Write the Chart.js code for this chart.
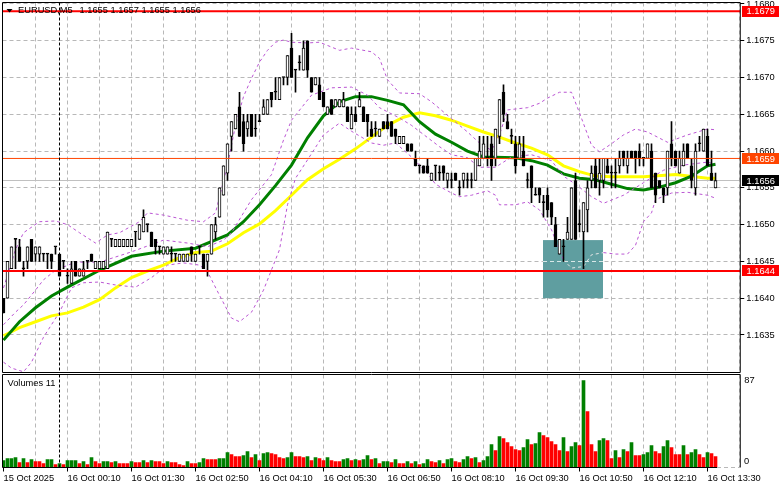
<!DOCTYPE html>
<html>
<head>
<meta charset="utf-8">
<title>EURUSD,M5</title>
<script src="https://cdn.jsdelivr.net/npm/chart.js@4/dist/chart.umd.js"></script>
<style>
body { margin: 0; background: #fff; }
canvas { position: absolute; left: 0; }
#priceChart { top: 0; }
#volumeChart { top: 374px; }
</style>
</head>
<body>
<canvas id="priceChart" width="781" height="374"></canvas>
<canvas id="volumeChart" width="781" height="115"></canvas>
<script>
var opens = [
1.1640,1.1640,1.1644,1.1648,1.1647,1.1644,1.1645,1.1648,1.1646,1.1646,
1.1646,1.1646,1.1646,1.1647,1.1646,1.1645,1.1643,1.1642,1.1645,1.1643,
1.1643,1.1645,1.1646,1.1644,1.1644,1.1644,1.1644,1.1648,1.1647,1.1647,
1.1647,1.1647,1.1647,1.1649,1.1648,1.1649,1.1650,1.1649,1.1648,1.1647,
1.1646,1.1646,1.1646,1.1646,1.1645,1.1645,1.1645,1.1647,1.1645,1.1647,
1.1646,1.1645,1.1646,1.1649,1.1651,1.1654,1.1657,1.1662,1.1663,1.1666,
1.1664,1.1663,1.1665,1.1663,1.1664,1.1665,1.1665,1.1668,1.1668,1.1667,
1.1670,1.1670,1.1674,1.1671,1.1672,1.1671,1.1675,1.1670,1.1669,1.1669,
1.1668,1.1665,1.1667,1.1666,1.1666,1.1666,1.1666,1.1663,1.1665,1.1666,
1.1666,1.1665,1.1663,1.1663,1.1662,1.1664,1.1664,1.1664,1.1663,1.1661,
1.1661,1.1661,1.1661,1.1659,1.1658,1.1658,1.1658,1.1656,1.1658,1.1657,
1.1658,1.1656,1.1656,1.1657,1.1655,1.1656,1.1656,1.1656,1.1656,1.1658,
1.1659,1.1659,1.1661,1.1659,1.1662,1.1668,1.1664,1.1662,1.1661,1.1659,
1.1660,1.1656,1.1658,1.1654,1.1655,1.1653,1.1654,1.1653,1.1650,1.1646,
1.1647,1.1648,1.1648,1.1656,1.1650,1.1649,1.1652,1.1656,1.1658,1.1656,
1.1656,1.1658,1.1657,1.1657,1.1658,1.1660,1.1658,1.1660,1.1660,1.1660,
1.1659,1.1659,1.1660,1.1657,1.1656,1.1655,1.1655,1.1661,1.1660,1.1657,
1.1658,1.1661,1.1658,1.1655,1.1661,1.1660,1.1662,1.1657,1.1655];
var highs = [
1.1640,1.1645,1.1647,1.1648,1.1648,1.1645,1.1647,1.1648,1.1647,1.1647,
1.1646,1.1646,1.1646,1.1647,1.1646,1.1645,1.1644,1.1645,1.1645,1.1644,
1.1645,1.1645,1.1646,1.1645,1.1645,1.1645,1.1649,1.1648,1.1648,1.1648,
1.1648,1.1648,1.1648,1.1649,1.1650,1.1652,1.1650,1.1649,1.1648,1.1647,
1.1647,1.1647,1.1647,1.1646,1.1646,1.1646,1.1646,1.1647,1.1646,1.1647,
1.1646,1.1646,1.1650,1.1651,1.1655,1.1658,1.1661,1.1664,1.1665,1.1668,
1.1665,1.1665,1.1665,1.1665,1.1665,1.1667,1.1667,1.1668,1.1670,1.1670,
1.1670,1.1673,1.1676,1.1671,1.1673,1.1675,1.1675,1.1670,1.1670,1.1670,
1.1668,1.1666,1.1667,1.1667,1.1667,1.1668,1.1666,1.1666,1.1666,1.1668,
1.1666,1.1665,1.1664,1.1664,1.1663,1.1664,1.1665,1.1664,1.1663,1.1662,
1.1662,1.1661,1.1661,1.1660,1.1658,1.1658,1.1659,1.1657,1.1658,1.1658,
1.1658,1.1657,1.1657,1.1657,1.1656,1.1657,1.1657,1.1657,1.1659,1.1662,
1.1662,1.1662,1.1662,1.1663,1.1667,1.1669,1.1665,1.1663,1.1662,1.1662,
1.1662,1.1657,1.1658,1.1655,1.1655,1.1654,1.1655,1.1653,1.1651,1.1648,
1.1648,1.1651,1.1655,1.1657,1.1652,1.1653,1.1656,1.1658,1.1659,1.1659,
1.1659,1.1659,1.1658,1.1659,1.1660,1.1660,1.1660,1.1660,1.1660,1.1661,
1.1659,1.1661,1.1661,1.1657,1.1656,1.1655,1.1660,1.1664,1.1660,1.1660,
1.1661,1.1661,1.1659,1.1661,1.1662,1.1663,1.1663,1.1660,1.1657];
var lows = [
1.1638,1.1640,1.1644,1.1644,1.1645,1.1643,1.1644,1.1645,1.1645,1.1645,
1.1645,1.1644,1.1644,1.1646,1.1643,1.1644,1.1642,1.1642,1.1643,1.1643,
1.1643,1.1644,1.1645,1.1644,1.1644,1.1644,1.1644,1.1647,1.1647,1.1647,
1.1647,1.1647,1.1647,1.1647,1.1648,1.1649,1.1649,1.1647,1.1646,1.1646,
1.1646,1.1646,1.1645,1.1645,1.1645,1.1645,1.1645,1.1645,1.1645,1.1646,
1.1644,1.1643,1.1646,1.1648,1.1651,1.1654,1.1656,1.1660,1.1663,1.1662,
1.1660,1.1662,1.1662,1.1662,1.1664,1.1665,1.1665,1.1666,1.1667,1.1667,
1.1669,1.1669,1.1670,1.1668,1.1671,1.1671,1.1670,1.1668,1.1669,1.1667,
1.1666,1.1665,1.1665,1.1666,1.1666,1.1666,1.1664,1.1663,1.1664,1.1666,
1.1664,1.1662,1.1662,1.1662,1.1662,1.1663,1.1663,1.1662,1.1661,1.1661,
1.1661,1.1660,1.1660,1.1658,1.1657,1.1657,1.1657,1.1656,1.1656,1.1656,
1.1656,1.1655,1.1655,1.1656,1.1654,1.1655,1.1655,1.1655,1.1656,1.1658,
1.1659,1.1658,1.1656,1.1658,1.1661,1.1664,1.1663,1.1661,1.1657,1.1659,
1.1658,1.1655,1.1653,1.1654,1.1653,1.1651,1.1651,1.1650,1.1647,1.1646,
1.1645,1.1648,1.1648,1.1648,1.1649,1.1644,1.1649,1.1655,1.1655,1.1654,
1.1655,1.1657,1.1655,1.1655,1.1657,1.1658,1.1657,1.1659,1.1657,1.1658,
1.1658,1.1659,1.1655,1.1653,1.1655,1.1653,1.1654,1.1658,1.1658,1.1657,
1.1658,1.1659,1.1655,1.1654,1.1660,1.1660,1.1658,1.1656,1.1655];
var closes = [
1.1638,1.1645,1.1647,1.1648,1.1645,1.1644,1.1647,1.1645,1.1647,1.1647,
1.1646,1.1646,1.1645,1.1647,1.1643,1.1645,1.1643,1.1644,1.1643,1.1644,
1.1644,1.1645,1.1645,1.1645,1.1645,1.1645,1.1649,1.1648,1.1648,1.1648,
1.1648,1.1648,1.1648,1.1649,1.1650,1.1651,1.1650,1.1647,1.1647,1.1647,
1.1647,1.1647,1.1646,1.1646,1.1646,1.1646,1.1646,1.1646,1.1646,1.1647,
1.1644,1.1646,1.1650,1.1650,1.1655,1.1658,1.1661,1.1664,1.1665,1.1662,
1.1661,1.1664,1.1662,1.1663,1.1664,1.1666,1.1667,1.1667,1.1668,1.1670,
1.1670,1.1673,1.1670,1.1671,1.1672,1.1674,1.1671,1.1668,1.1670,1.1667,
1.1666,1.1666,1.1665,1.1667,1.1667,1.1667,1.1664,1.1665,1.1664,1.1667,
1.1664,1.1664,1.1662,1.1663,1.1663,1.1663,1.1663,1.1662,1.1662,1.1662,
1.1662,1.1660,1.1660,1.1658,1.1658,1.1657,1.1657,1.1657,1.1658,1.1657,
1.1657,1.1657,1.1656,1.1656,1.1655,1.1657,1.1656,1.1656,1.1659,1.1660,
1.1661,1.1659,1.1658,1.1663,1.1667,1.1665,1.1663,1.1662,1.1658,1.1661,
1.1658,1.1656,1.1655,1.1654,1.1654,1.1653,1.1652,1.1651,1.1647,1.1648,
1.1647,1.1649,1.1655,1.1648,1.1650,1.1653,1.1655,1.1657,1.1655,1.1657,
1.1659,1.1657,1.1657,1.1657,1.1659,1.1659,1.1659,1.1659,1.1659,1.1659,
1.1659,1.1661,1.1655,1.1654,1.1655,1.1654,1.1660,1.1659,1.1658,1.1659,
1.1660,1.1659,1.1656,1.1660,1.1661,1.1663,1.1658,1.1656,1.1656];
var volumes = [
7,9,9,10,5,9,5,8,6,6,4,8,8,3,4,3,7,7,7,4,
6,3,10,6,4,6,6,5,6,4,4,4,6,5,5,7,5,7,6,6,
4,6,5,5,3,2,6,4,4,5,9,8,8,8,9,9,15,13,11,11,
12,16,10,13,7,14,15,14,13,10,9,10,15,11,11,10,11,7,10,9,
7,10,7,6,6,8,9,7,8,7,8,12,8,9,4,6,6,5,8,4,
4,6,4,6,3,4,8,6,5,7,4,8,9,6,5,8,11,9,10,5,
7,11,23,17,31,29,25,21,18,17,20,28,23,24,35,32,30,26,23,17,
30,16,21,25,22,87,56,23,16,27,29,27,9,17,10,18,16,25,12,12,
13,15,22,16,14,21,27,20,13,13,22,13,15,18,13,10,15,14,11];

var fastBars = [0,4,8,12,16,24,32,40,48,56,60,64,68,72,76,80,84,88,92,96,100,104,108,112,116,120,128,132,136,140,144,148,152,156,160,164,168,172,176,178];
var fastMa = [1.16343,1.16368,1.16387,1.16403,1.16415,1.16438,1.16457,1.16464,1.16468,1.16486,1.16504,1.16527,1.16553,1.16581,1.16618,1.16648,1.16667,1.16674,1.16674,1.16669,1.16663,1.16640,1.16623,1.16612,1.16600,1.16592,1.16591,1.16587,1.16581,1.16569,1.16563,1.16561,1.16555,1.16549,1.16547,1.16551,1.16557,1.16566,1.16580,1.16582];
var slowBars = [0,4,8,12,16,20,24,28,32,36,40,44,48,52,56,60,64,68,72,76,80,84,88,92,96,100,104,108,112,116,120,124,128,132,136,140,144,148,152,160,168,176,178];
var slowMa = [1.16349,1.16360,1.16368,1.16376,1.16380,1.16388,1.16398,1.16414,1.16428,1.16437,1.16445,1.16455,1.16462,1.16464,1.16474,1.16489,1.16501,1.16519,1.16540,1.16561,1.16576,1.16589,1.16603,1.16619,1.16635,1.16646,1.16652,1.16648,1.16642,1.16634,1.16626,1.16619,1.16611,1.16604,1.16595,1.16580,1.16572,1.16566,1.16565,1.16565,1.16568,1.16563,1.16563];

var upperBars = [0,3,5,9,13,16,19,23,26,29,34,36,40,46,50,53,56,58,60,62,64,66,68,70,72,76,79,84,87,92,94,96,99,104,107,112,116,119,122,124,126,131,134,136,139,142,144,147,149,152,155,158,161,166,171,176,178];
var upperBand = [1.16414,1.16466,1.16489,1.16504,1.16505,1.16500,1.16489,1.16475,1.16486,1.16489,1.16504,1.16516,1.16513,1.16506,1.16504,1.16516,1.16581,1.16635,1.16674,1.16699,1.16721,1.16737,1.16748,1.16751,1.16748,1.16747,1.16748,1.16737,1.16740,1.16735,1.16726,1.16697,1.16679,1.16678,1.16667,1.16644,1.16626,1.16611,1.16601,1.16622,1.16656,1.16659,1.16665,1.16672,1.16680,1.16680,1.16652,1.16608,1.16599,1.16610,1.16622,1.16630,1.16626,1.16612,1.16622,1.16630,1.16629];
var middleBars = [0,3,5,8,10,13,18,24,32,40,46,51,55,57,62,67,70,72,77,82,87,91,94,99,102,109,112,116,119,123,127,132,137,140,143,147,150,155,160,165,170,176,178];
var middleBand = [1.16364,1.16381,1.16391,1.16411,1.16425,1.16438,1.16449,1.16449,1.16463,1.16479,1.16475,1.16470,1.16479,1.16489,1.16534,1.16568,1.16615,1.16642,1.16676,1.16686,1.16687,1.16676,1.16659,1.16645,1.16635,1.16606,1.16595,1.16591,1.16578,1.16578,1.16592,1.16595,1.16587,1.16566,1.16555,1.16538,1.16529,1.16540,1.16557,1.16574,1.16581,1.16585,1.16582];
var lowerBars = [0,2,5,7,10,14,17,20,24,28,33,37,41,45,49,51,54,57,59,62,65,69,71,73,76,80,84,87,92,95,98,102,106,108,112,114,117,121,123,124,128,131,134,137,140,142,145,147,150,153,156,158,160,162,163,167,171,176,178];
var lowerBand = [1.16313,1.16305,1.16300,1.16313,1.16347,1.16381,1.16414,1.16421,1.16422,1.16418,1.16415,1.16428,1.16445,1.16448,1.16445,1.16436,1.16404,1.16373,1.16368,1.16381,1.16411,1.16466,1.16527,1.16563,1.16588,1.16622,1.16638,1.16627,1.16611,1.16608,1.16611,1.16592,1.16570,1.16555,1.16543,1.16538,1.16540,1.16546,1.16540,1.16527,1.16527,1.16531,1.16520,1.16493,1.16452,1.16441,1.16443,1.16459,1.16462,1.16460,1.16460,1.16472,1.16504,1.16516,1.16534,1.16543,1.16544,1.16540,1.16536];

var priceTicks = [1.1635,1.1640,1.1645,1.1650,1.1655,1.1660,1.1665,1.1670,1.1675,1.1680];
var gridBars = [0,8,16,24,32,40,48,56,64,72,80,88,96,104,112,120,128,136,144,152,160,168,176,184];
var timeLabels = ['15 Oct 2025','16 Oct 00:10','16 Oct 01:30','16 Oct 02:50','16 Oct 04:10','16 Oct 05:30','16 Oct 06:50','16 Oct 08:10','16 Oct 09:30','16 Oct 10:50','16 Oct 12:10','16 Oct 13:30'];
var volumeTicks = [0,87];

var headerName = 'EURUSD,M5';
var headerQuote = [1.1655,1.1657,1.1655,1.1656];
var volumeName = 'Volumes 11';
var resistance = 1.1679, pivot = 1.1659, bid = 1.1656, support = 1.16437;
var dayBreakBar = 14;
var zoneBars = [134.875,149.875];
var zonePrices = [1.16479,1.1640];

var FONT = '"Liberation Sans", sans-serif';
var FONT_SIZE = 9.3;
var barIndex = opens.map(function (o, i) { return i; });

// volume bar is green when it grew on the previous one, equal keeps the colour
var volumeColors = [];
volumes.forEach(function (v, i) {
    if (i == 0 || v > volumes[i - 1]) volumeColors.push('#008000');
    else if (v < volumes[i - 1]) volumeColors.push('#FF0000');
    else volumeColors.push(volumeColors[i - 1]);
});

function points(bars, values) {
    return bars.map(function (b, i) { return { x: b, y: values[i] }; });
}

function lineSet(bars, values, color, width, dash, order) {
    return {
        type: 'line', data: points(bars, values), borderColor: color, borderWidth: width,
        borderDash: dash, pointRadius: 0, tension: 0, order: order
    };
}

function xScale(showLabels, height) {
    return {
        type: 'linear', min: -0.25, max: 184.1875, offset: false,
        afterBuildTicks: function (s) { s.ticks = gridBars.map(function (v) { return { value: v }; }); },
        afterFit: function (s) { s.height = height; s.paddingLeft = 0; s.paddingRight = 0; },
        border: { display: false, dash: [4, 3] },
        grid: {
            offset: false, drawTicks: showLabels, tickLength: 4,
            color: function (c) { return c.tick && c.tick.value == 0 ? 'transparent' : '#b8b8b8'; },
            tickColor: function (c) { return c.tick && c.tick.value % 16 == 0 ? '#000' : 'transparent'; }
        },
        ticks: {
            display: showLabels, autoSkip: false, maxRotation: 0, align: 'start', padding: 1, color: '#000',
            font: { family: FONT, size: FONT_SIZE },
            callback: function (v) { return v % 16 == 0 ? timeLabels[v / 16] : ''; }
        }
    };
}

function hLine(chart, price, color, width) {
    var y = chart.scales.y.getPixelForValue(price), a = chart.chartArea, ctx = chart.ctx;
    ctx.save();
    ctx.strokeStyle = color;
    ctx.lineWidth = width;
    ctx.beginPath();
    ctx.moveTo(a.left, y);
    ctx.lineTo(a.right, y);
    ctx.stroke();
    ctx.restore();
}

function dayBreak(chart) {
    var x = Math.round(chart.scales.x.getPixelForValue(dayBreakBar) - 0.5) + 0.5, a = chart.chartArea, ctx = chart.ctx;
    ctx.save();
    ctx.strokeStyle = '#000';
    ctx.lineWidth = 1;
    ctx.setLineDash([3, 2]);
    ctx.beginPath();
    ctx.moveTo(x, a.top);
    ctx.lineTo(x, a.bottom);
    ctx.stroke();
    ctx.restore();
}

function frame(chart, bottom) {
    var a = chart.chartArea, ctx = chart.ctx;
    ctx.save();
    ctx.strokeStyle = '#000';
    ctx.lineWidth = 1;
    ctx.beginPath();
    ctx.moveTo(a.left, a.bottom);
    ctx.lineTo(a.left, a.top);
    ctx.lineTo(a.right, a.top);
    ctx.lineTo(a.right, a.bottom);
    if (bottom) {
        ctx.moveTo(a.left, a.bottom);
        ctx.lineTo(bottom, a.bottom);
    }
    ctx.stroke();
    ctx.restore();
}

function priceTag(chart, price, fill) {
    var y = chart.scales.y.getPixelForValue(price), ctx = chart.ctx;
    ctx.save();
    ctx.fillStyle = fill;
    ctx.fillRect(742, Math.round(y - 5.5), 37, 11);
    ctx.fillStyle = '#fff';
    ctx.font = FONT_SIZE + 'px ' + FONT;
    ctx.textBaseline = 'middle';
    ctx.fillText(price.toFixed(4), 746.5, y + 0.5);
    ctx.restore();
}

var pricePlugin = {
    id: 'pricePlugin',
    beforeDatasetsDraw: function (chart) {
        var x = chart.scales.x, y = chart.scales.y, ctx = chart.ctx;
        hLine(chart, bid, '#c0c0c0', 1);
        var x0 = x.getPixelForValue(zoneBars[0]), x1 = x.getPixelForValue(zoneBars[1]);
        var y0 = y.getPixelForValue(zonePrices[0]), y1 = y.getPixelForValue(zonePrices[1]);
        ctx.save();
        ctx.fillStyle = '#5F9EA0';
        ctx.fillRect(x0, y0, x1 - x0, y1 - y0);
        // the rectangle leaves the grid line visible, lighter
        ctx.strokeStyle = '#d8e8e8';
        ctx.setLineDash([4, 3]);
        ctx.beginPath();
        var gy = Math.round(y.getPixelForValue(1.1645)) + 0.5;
        ctx.moveTo(x0, gy);
        ctx.lineTo(x1, gy);
        ctx.stroke();
        ctx.restore();
    },
    afterDatasetsDraw: function (chart) {
        hLine(chart, pivot, '#FF4500', 1);
        hLine(chart, resistance, '#FF0000', 2);
        hLine(chart, support, '#FF0000', 2);
        dayBreak(chart);
        var a = chart.chartArea;
        frame(chart, a.right);
    },
    afterDraw: function (chart) {
        var ctx = chart.ctx;
        priceTag(chart, resistance, '#FF0000');
        priceTag(chart, pivot, '#FF4500');
        priceTag(chart, bid, '#000000');
        priceTag(chart, support, '#FF0000');
        ctx.save();
        ctx.fillStyle = '#000';
        ctx.beginPath();
        ctx.moveTo(6.5, 9);
        ctx.lineTo(12.5, 9);
        ctx.lineTo(9.5, 12.5);
        ctx.closePath();
        ctx.fill();
        ctx.font = FONT_SIZE + 'px ' + FONT;
        ctx.textBaseline = 'middle';
        ctx.fillText(headerName, 18, 10.5);
        headerQuote.forEach(function (q, i) { ctx.fillText(q.toFixed(4), 79.5 + 31 * i, 10.5); });
        ctx.restore();
    }
};

var volumePlugin = {
    id: 'volumePlugin',
    afterDatasetsDraw: function (chart) {
        dayBreak(chart);
        frame(chart, chart.scales.x.getPixelForValue(volumes.length - 1) + 1.5);
        var a = chart.chartArea, ctx = chart.ctx, x = chart.scales.x.getPixelForValue(volumes.length - 1) + 1.5;
        ctx.save();
        ctx.strokeStyle = '#b8b8b8';
        ctx.setLineDash([4, 3]);
        ctx.beginPath();
        ctx.moveTo(x, a.bottom);
        ctx.lineTo(a.right, a.bottom);
        ctx.stroke();
        ctx.restore();
    },
    afterDraw: function (chart) {
        var ctx = chart.ctx;
        ctx.save();
        ctx.fillStyle = '#000';
        ctx.font = FONT_SIZE + 'px ' + FONT;
        ctx.textBaseline = 'middle';
        ctx.fillText(volumeName, 7.5, 9.7);
        ctx.fillText(String(volumeTicks[0]), 744, 87.7);
        ctx.restore();
    }
};

var lowerSet = lineSet(lowerBars, lowerBand, '#BA55D3', 1, [3, 3], 2);
lowerSet.segment = {
    borderColor: function (c) {
        return c.p0.parsed.x >= 140 && c.p1.parsed.x <= zoneBars[1] + 1 ? '#e8e8e8' : undefined;
    }
};

new Chart(document.getElementById('priceChart'), {
    type: 'bar',
    plugins: [pricePlugin],
    data: {
        labels: barIndex,
        datasets: [
            lineSet(slowBars, slowMa, '#FFFF00', 3, [], 4),
            lineSet(fastBars, fastMa, '#008000', 3, [], 3),
            lineSet(upperBars, upperBand, '#BA55D3', 1, [3, 3], 2),
            lineSet(middleBars, middleBand, '#BA55D3', 1, [3, 3], 2),
            lowerSet,
            {
                data: highs.map(function (h, i) { return [lows[i], h]; }),
                backgroundColor: '#000', barThickness: 1, grouped: false, borderWidth: 0, order: 1
            },
            {
                data: opens.map(function (o, i) { return [o, closes[i]]; }),
                backgroundColor: opens.map(function (o, i) { return closes[i] > o ? '#fff' : '#000'; }),
                borderColor: '#000', borderWidth: 1, borderSkipped: false,
                barThickness: 3, minBarLength: 1, grouped: false, order: 0
            }
        ]
    },
    options: {
        responsive: false, animation: false, devicePixelRatio: 1,
        layout: { padding: { left: 2.5, right: 0, top: 2.5, bottom: 1.5 } },
        plugins: { legend: { display: false }, tooltip: { enabled: false } },
        scales: {
            x: xScale(false, 0),
            y: {
                position: 'right', min: 1.16299, max: 1.16802,
                afterBuildTicks: function (s) { s.ticks = priceTicks.map(function (v) { return { value: v }; }); },
                afterFit: function (s) { s.width = 40.75; s.paddingTop = 0; s.paddingBottom = 0; },
                border: { display: false, dash: [4, 3] },
                grid: { color: '#b8b8b8', tickColor: '#000', tickLength: 4 },
                ticks: {
                    padding: 2, color: '#000', autoSkip: false, font: { family: FONT, size: FONT_SIZE },
                    callback: function (v) { return v.toFixed(4); }
                }
            }
        }
    }
});

new Chart(document.getElementById('volumeChart'), {
    type: 'bar',
    plugins: [volumePlugin],
    data: {
        labels: barIndex,
        datasets: [{ data: volumes, backgroundColor: volumeColors, barThickness: 3, grouped: false, borderWidth: 0 }]
    },
    options: {
        responsive: false, animation: false, devicePixelRatio: 1,
        layout: { padding: { left: 2.5, right: 0, top: 0.5, bottom: 0 } },
        plugins: { legend: { display: false }, tooltip: { enabled: false } },
        scales: {
            x: xScale(true, 21.5),
            y: {
                position: 'right', min: 0, max: 93,
                afterBuildTicks: function (s) { s.ticks = volumeTicks.map(function (v) { return { value: v }; }); },
                afterFit: function (s) { s.width = 40.75; s.paddingTop = 0; s.paddingBottom = 0; },
                border: { display: false },
                grid: { drawOnChartArea: false, drawTicks: false },
                ticks: {
                    padding: 4, color: '#000', autoSkip: false, font: { family: FONT, size: FONT_SIZE },
                    callback: function (v) { return v == 0 ? '' : String(v); }
                }
            }
        }
    }
});
</script>
</body>
</html>
